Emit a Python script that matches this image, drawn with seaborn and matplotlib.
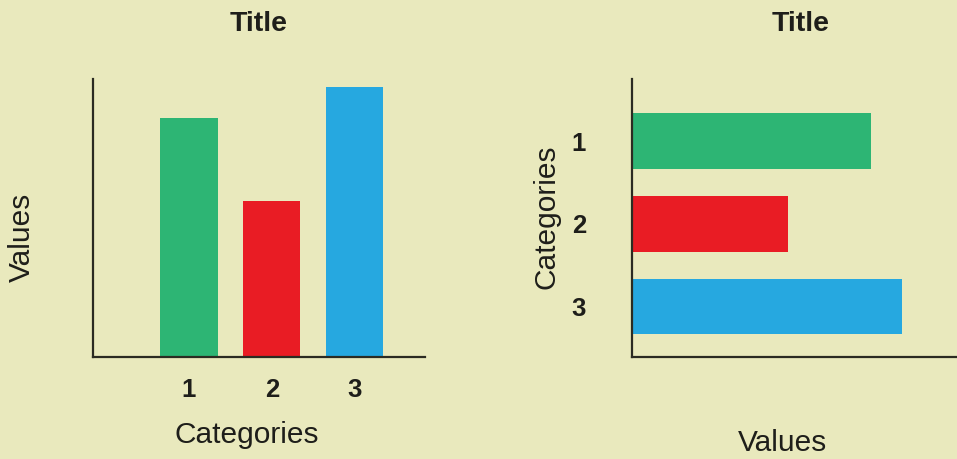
import matplotlib
matplotlib.use("Agg")
import matplotlib.pyplot as plt
import seaborn as sns

# Data shared by both charts
categories = ["1", "2", "3"]
values = [8.6, 5.6, 9.7]
bar_colors = ["#2db574", "#e91c24", "#26a8e0"]
chart_title = "Title"
cat_label = "Categories"
val_label = "Values"

sns.set_theme(style="white")
plt.rcParams["font.family"] = ["Liberation Sans", "DejaVu Sans"]

BG = "#e9e9bd"
INK = "#1e1e1a"
SPINE = "#2b2b22"

W, H = 957, 459
fig = plt.figure(figsize=(W / 100, H / 100), dpi=100, facecolor=BG)


def px_axes(x0, y0, x1, y1):
    """Axes rectangle from pixel edges (top-left origin)."""
    return fig.add_axes([x0 / W, 1 - y1 / H, (x1 - x0) / W, (y1 - y0) / H])


def style_axes(ax):
    ax.set_facecolor("none")
    for side in ("top", "right"):
        ax.spines[side].set_visible(False)
    for side in ("left", "bottom"):
        ax.spines[side].set_color(SPINE)
        ax.spines[side].set_linewidth(1.6)
    ax.set_xlabel("")
    ax.set_ylabel("")


# ---- Left: vertical bar chart ----
ax1 = px_axes(93, 79, 425, 357)
sns.barplot(x=categories, y=values, hue=categories, palette=bar_colors,
            width=0.69, saturation=1, legend=False, linewidth=0, ax=ax1)
style_axes(ax1)
ax1.set_ylim(0, 10)
ax1.set_xlim(-1.16, 2.85)
ax1.set_yticks([])
ax1.tick_params(axis="x", length=0, pad=15, labelsize=18.5, labelcolor=INK)
for t in ax1.get_xticklabels():
    t.set_fontweight("bold")

fig.text(259 / W, 1 - 24 / H, chart_title, ha="center", va="center",
         fontsize=20.5, fontweight="bold", color=INK)
fig.text(247 / W, 1 - 435 / H, cat_label, ha="center", va="center",
         fontsize=21.5, color=INK)
fig.text(22 / W, 1 - 237 / H, val_label, ha="center", va="center",
         rotation=90, fontsize=21.5, color=INK)

# ---- Right: horizontal bar chart ----
ax2 = px_axes(632, 79, 990, 357)
sns.barplot(x=values, y=categories, hue=categories, palette=bar_colors,
            orient="h", width=0.67, saturation=1, legend=False, linewidth=0,
            ax=ax2)
style_axes(ax2)
ax2.set_xlim(0, (990 - 632) / 27.8)
ax2.set_ylim(2.61, -0.75)
ax2.set_xticks([])
ax2.tick_params(axis="y", length=0, pad=33, labelsize=18.5, labelcolor=INK)
for t in ax2.get_yticklabels():
    t.set_fontweight("bold")

fig.text(801 / W, 1 - 24 / H, chart_title, ha="center", va="center",
         fontsize=20.5, fontweight="bold", color=INK)
fig.text(546 / W, 1 - 217 / H, cat_label, ha="center", va="center",
         rotation=90, fontsize=21.5, color=INK)
fig.text(783 / W, 1 - 443 / H, val_label, ha="center", va="center",
         fontsize=21.5, color=INK)

fig.savefig("out.png", dpi=100, facecolor=BG)
